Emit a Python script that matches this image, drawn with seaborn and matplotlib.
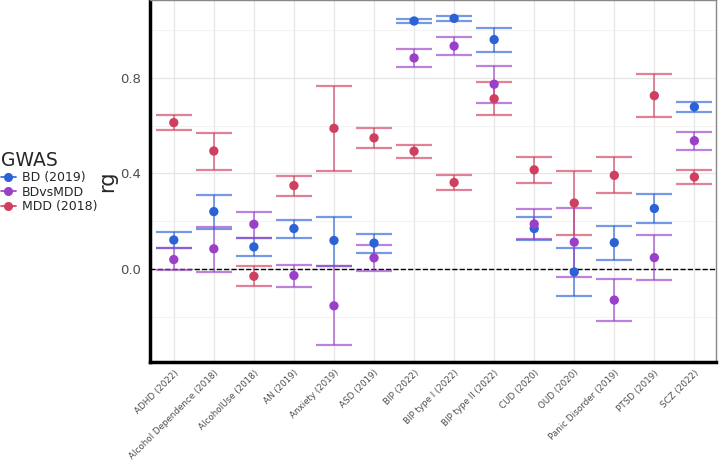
import matplotlib
matplotlib.use("Agg")
import matplotlib.pyplot as plt
import numpy as np
import pandas as pd
import seaborn as sns
from matplotlib.lines import Line2D
from matplotlib.ticker import MultipleLocator

phenotypes = [
    "ADHD (2022)", "Alcohol Dependence (2018)", "AlcoholUse (2018)", "AN (2019)",
    "Anxiety (2019)", "ASD (2019)", "BIP (2022)", "BIP type I (2022)",
    "BIP type II (2022)", "CUD (2020)", "OUD (2020)", "Panic Disorder (2019)",
    "PTSD (2019)", "SCZ (2022)",
]
gwas_names = ["BD (2019)", "BDvsMDD", "MDD (2018)"]

bd_rg = [0.121, 0.240, 0.092, 0.169, 0.119, 0.108, 1.039, 1.050, 0.961, 0.169, -0.013, 0.110, 0.253, 0.679]
bd_lo = [0.087, 0.168, 0.052, 0.131, 0.014, 0.066, 1.029, 1.039, 0.909, 0.122, -0.112, 0.038, 0.193, 0.658]
bd_hi = [0.154, 0.311, 0.131, 0.205, 0.219, 0.148, 1.047, 1.058, 1.009, 0.216, 0.087, 0.181, 0.314, 0.698]

bdvsmdd_rg = [0.039, 0.084, 0.187, -0.028, -0.155, 0.046, 0.884, 0.934, 0.774, 0.188, 0.112, -0.131, 0.047, 0.537]
bdvsmdd_lo = [-0.005, -0.014, 0.131, -0.074, -0.321, -0.008, 0.847, 0.896, 0.695, 0.126, -0.034, -0.219, -0.046, 0.500]
bdvsmdd_hi = [0.089, 0.177, 0.240, 0.017, 0.010, 0.101, 0.920, 0.970, 0.852, 0.250, 0.255, -0.043, 0.141, 0.574]

mdd_rg = [0.613, 0.494, -0.031, 0.349, 0.589, 0.549, 0.493, 0.362, 0.713, 0.415, 0.276, 0.392, 0.726, 0.385]
mdd_lo = [0.581, 0.416, -0.073, 0.307, 0.410, 0.507, 0.464, 0.331, 0.645, 0.360, 0.141, 0.316, 0.635, 0.356]
mdd_hi = [0.644, 0.571, 0.013, 0.391, 0.768, 0.592, 0.521, 0.392, 0.783, 0.469, 0.409, 0.470, 0.815, 0.413]

colors = {"BD (2019)": "#2B62D6", "BDvsMDD": "#9A40C8", "MDD (2018)": "#CF3F60"}

rows = []
for name, rg, lo, hi in [
    ("BD (2019)", bd_rg, bd_lo, bd_hi),
    ("BDvsMDD", bdvsmdd_rg, bdvsmdd_lo, bdvsmdd_hi),
    ("MDD (2018)", mdd_rg, mdd_lo, mdd_hi),
]:
    for i, ph in enumerate(phenotypes):
        rows.append({"Phenotype": ph, "pos": i, "GWAS": name, "rg": rg[i], "lo": lo[i], "hi": hi[i]})
df = pd.DataFrame(rows)

sns.set_style("whitegrid")
plt.rcParams["font.family"] = ["DejaVu Sans"]

fig = plt.figure(figsize=(7.2, 4.61), dpi=100)
ax = fig.add_axes([0.208, 0.215, 0.787, 0.785])

for name in gwas_names:
    sub = df[df["GWAS"] == name]
    ax.errorbar(
        sub["pos"], sub["rg"],
        yerr=[sub["rg"] - sub["lo"], sub["hi"] - sub["rg"]],
        fmt="none", ecolor=colors[name], alpha=0.65, elinewidth=1.3,
        capsize=13, capthick=1.6, zorder=2,
    )

sns.scatterplot(
    data=df, x="pos", y="rg", hue="GWAS", hue_order=gwas_names,
    palette=colors, s=45, edgecolor="none", ax=ax, zorder=3, legend=False,
)

ax.axhline(0, color="black", linestyle="--", linewidth=1, zorder=1)

ax.set_xlim(-0.6, 13.55)
ax.set_ylim(-0.39, 1.127)
ax.set_xticks(range(len(phenotypes)))
ax.set_xticklabels(phenotypes, rotation=45, ha="right", rotation_mode="anchor",
                   fontsize=6.3, color="#4d4d4d")
ax.yaxis.set_major_locator(MultipleLocator(0.4))
ax.yaxis.set_minor_locator(MultipleLocator(0.2))
ax.set_yticks([0.0, 0.4, 0.8])
ax.set_yticklabels(["0.0", "0.4", "0.8"], fontsize=9.5, color="#4d4d4d")
ax.tick_params(axis="both", which="major", length=3, color="#333333", width=0.8)
ax.tick_params(axis="x", pad=1.5)
ax.grid(which="major", color="#e6e6e6", linewidth=0.9)
ax.grid(which="minor", axis="y", color="#f2f2f2", linewidth=0.7)
ax.set_axisbelow(True)
ax.set_xlabel("")
ax.set_ylabel("rg", fontsize=15, labelpad=2)

for side in ["left", "bottom"]:
    ax.spines[side].set_color("black")
    ax.spines[side].set_linewidth(2.5)
for side in ["top", "right"]:
    ax.spines[side].set_color("#888888")
    ax.spines[side].set_linewidth(1.0)

handles = [
    Line2D([0], [0], color=colors[n], marker="o", markersize=5.5, linewidth=1.2)
    for n in gwas_names
]
leg = fig.legend(handles, gwas_names, title="GWAS", loc="upper left",
                 bbox_to_anchor=(0.001, 0.672), frameon=False, fontsize=9,
                 title_fontsize=13.5, handlelength=1.2, handletextpad=0.5,
                 labelspacing=0.1, borderaxespad=0, borderpad=0)
leg._legend_box.align = "left"

fig.savefig("out.png", dpi=100)
